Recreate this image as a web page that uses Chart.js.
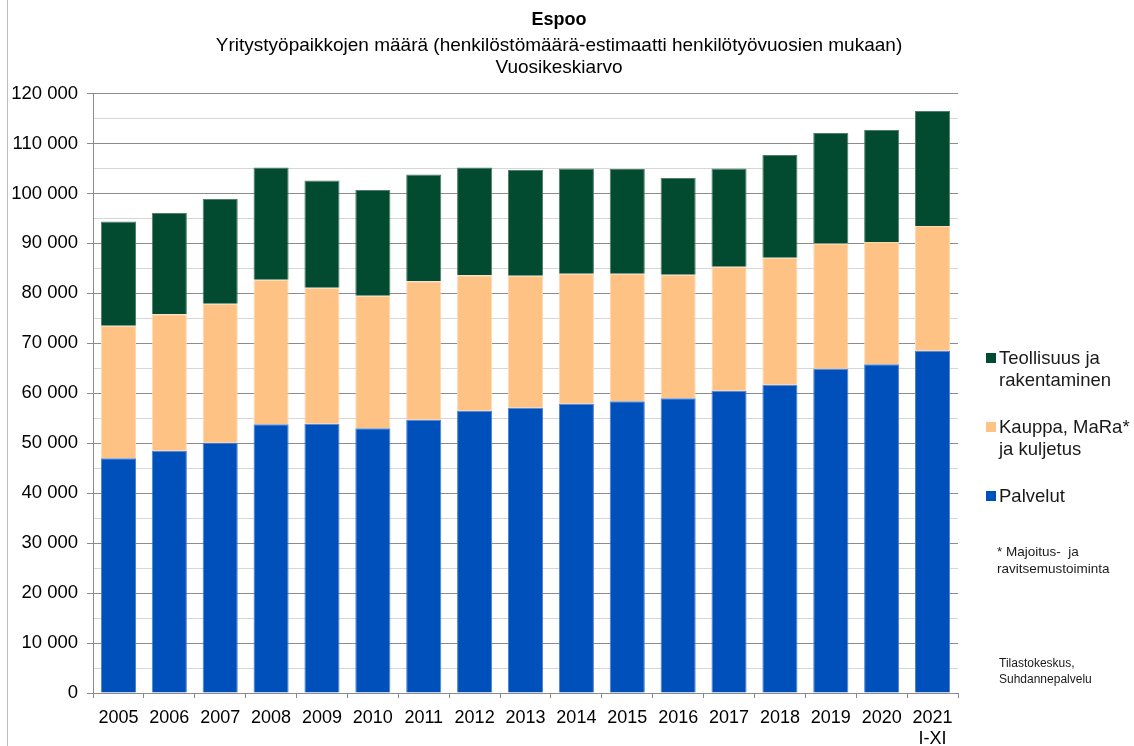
<!DOCTYPE html>
<html>
<head>
<meta charset="utf-8">
<script src="https://cdn.jsdelivr.net/npm/chart.js@4/dist/chart.umd.min.js"></script>
<style>
    body { margin: 0; background: #fff; font-family: 'Liberation Sans', Arial, sans-serif; }
    #wrap { position: relative; width: 1134px; height: 746px; }
    #edge { position: absolute; left: 7px; top: 0; width: 1px; height: 746px; background: #bdbdbd; }
    .leg { position: absolute; left: 999px; font-size: 18.5px; line-height: 22px; color: #1a1a1a; }
    .box { position: absolute; left: 986px; width: 10px; height: 10px; }
    .note { position: absolute; left: 997px; color: #1a1a1a; }
</style>
</head>
<body>
<div id="wrap">
    <canvas id="chart" width="1134" height="746"></canvas>
    <div id="edge"></div>
    <div id="legend"></div>
    <div class="note" style="top:543px;font-size:13.5px;line-height:17px;">* Majoitus-&nbsp; ja<br>ravitsemustoiminta</div>
    <div class="note" style="top:655px;left:999px;font-size:12px;line-height:16px;">Tilastokeskus,<br>Suhdannepalvelu</div>
</div>
<script>
const years = ['2005', '2006', '2007', '2008', '2009', '2010', '2011', '2012', '2013',
    '2014', '2015', '2016', '2017', '2018', '2019', '2020', ['2021', 'I-XI']];

const palvelut = [47000, 48500, 50100, 53800, 53900, 53000, 54700, 56500, 57100,
    57900, 58400, 59000, 60500, 61700, 64900, 65800, 68500];
const kauppa = [26500, 27300, 27800, 28900, 27200, 26500, 27700, 27100, 26400,
    26000, 25500, 24700, 24800, 25400, 25100, 24500, 25000];
const teollisuus = [20900, 20300, 21000, 22500, 21500, 21200, 21400, 21600, 21200,
    21100, 21000, 19400, 19700, 20600, 22100, 22400, 23000];

const seriesNames = ['Palvelut', 'Kauppa, MaRa*\nja kuljetus', 'Teollisuus ja\nrakentaminen'];
const seriesColors = ['#0050BC', '#FFC285', '#024B30'];
const seriesEdges = ['#4d7fd0', '#ffd9b0', '#4f7f6a'];

const titleText = 'Espoo';
const subtitleText = ['Yritystyöpaikkojen määrä (henkilöstömäärä-estimaatti henkilötyövuosien mukaan)', 'Vuosikeskiarvo'];

function fmt(v) {
    return String(v).replace(/\B(?=(\d{3})+(?!\d))/g, ' ');
}

const font = 'Liberation Sans';

const chart = new Chart(document.getElementById('chart').getContext('2d'), {
    type: 'bar',
    data: {
        labels: years,
        datasets: [palvelut, kauppa, teollisuus].map(function(d, i) {
            return {
                label: seriesNames[i],
                data: d,
                backgroundColor: seriesColors[i],
                borderColor: seriesEdges[i],
                borderWidth: 1,
                barPercentage: 0.69,
                categoryPercentage: 1
            };
        })
    },
    options: {
        responsive: false,
        animation: false,
        layout: { padding: { left: 0, right: 16, top: 0, bottom: 0 } },
        plugins: {
            legend: { display: false },
            tooltip: { enabled: false },
            title: {
                display: true,
                text: titleText,
                color: '#000',
                font: { family: font, size: 18, weight: 'bold', lineHeight: 1.2 },
                padding: { top: 9, bottom: 2 }
            },
            subtitle: {
                display: true,
                text: subtitleText,
                color: '#000',
                font: { family: font, size: 19, lineHeight: 1.15 },
                padding: { top: 2.6, bottom: 14.6 }
            }
        },
        scales: {
            x: {
                stacked: true,
                afterFit: function(s) { s.height = 53; },
                border: { color: '#8c8c8c' },
                grid: { drawOnChartArea: false, tickLength: 5, color: '#8c8c8c' },
                ticks: { color: '#000', font: { family: font, size: 18 }, padding: 9, maxRotation: 0, autoSkip: false }
            },
            y: {
                stacked: true,
                min: 0,
                max: 120000,
                afterFit: function(s) { s.width = 93; },
                border: { color: '#8c8c8c' },
                grid: {
                    tickLength: 6,
                    color: function(c) { return c.tick && c.tick.value % 10000 === 0 ? '#8c8c8c' : '#d6d6d6'; },
                    tickColor: function(c) { return c.tick && c.tick.value % 10000 === 0 ? '#8c8c8c' : 'rgba(0,0,0,0)'; }
                },
                ticks: {
                    stepSize: 5000,
                    autoSkip: false,
                    padding: 9,
                    color: '#000',
                    font: { family: font, size: 18.5 },
                    callback: function(v) { return v % 10000 === 0 ? fmt(v) : ''; }
                }
            },
            // empty box on the right, keeps room for the legend text
            side: {
                type: 'linear',
                position: 'right',
                afterFit: function(s) { s.width = 160; },
                border: { display: false },
                grid: { display: false },
                ticks: { display: false }
            }
        }
    }
});

// legend, top series first like in the original
const legend = document.getElementById('legend');
const legendTops = [485, 416, 347];
chart.data.datasets.forEach(function(ds, i) {
    const box = document.createElement('div');
    box.className = 'box';
    box.style.top = (legendTops[i] + 6) + 'px';
    box.style.background = ds.backgroundColor;
    legend.appendChild(box);
    const t = document.createElement('div');
    t.className = 'leg';
    t.style.top = legendTops[i] + 'px';
    t.innerHTML = ds.label.replace('\n', '<br>');
    legend.appendChild(t);
});
</script>
</body>
</html>
